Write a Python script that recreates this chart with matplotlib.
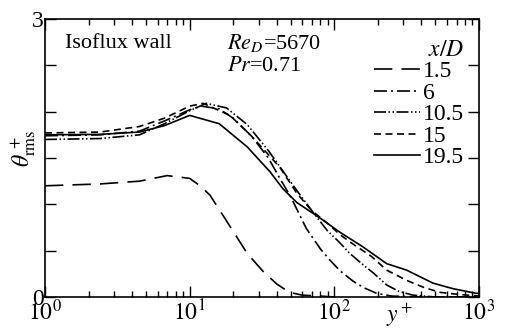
import numpy as np
import matplotlib
matplotlib.use("Agg")
import matplotlib.pyplot as plt

plt.rcParams['font.family'] = ['Liberation Serif', 'DejaVu Serif']
plt.rcParams['mathtext.fontset'] = 'stix'

# y+ positions and theta+_rms values
yp_15 = [1, 2.4, 4.5, 7, 10, 11.8, 13.8, 18, 25, 32, 40, 49, 60, 80, 100]
th_15 = [1.20, 1.22, 1.25, 1.31, 1.28, 1.20, 1.10, 0.82, 0.47, 0.28, 0.14, 0.05, 0.02, 0.01, 0.0]

yp_6 = [1, 2.4, 4.5, 6.7, 10, 12, 16, 20, 27, 35, 42, 50, 64, 80, 93, 110, 135, 160, 196, 250, 400, 1000]
th_6 = [1.74, 1.75, 1.79, 1.90, 2.02, 2.06, 2.03, 1.93, 1.73, 1.50, 1.28, 1.08, 0.74, 0.52, 0.40, 0.28, 0.17, 0.10, 0.04, 0.01, 0.0, 0.0]

yp_105 = [1, 2.4, 4.5, 6.7, 10, 13, 18, 25, 35, 45, 55, 70, 89, 110, 128, 160, 186, 230, 280, 350, 500, 1000]
th_105 = [1.70, 1.71, 1.75, 1.87, 2.01, 2.09, 2.04, 1.86, 1.58, 1.34, 1.15, 0.93, 0.72, 0.58, 0.47, 0.34, 0.26, 0.13, 0.06, 0.02, 0.0, 0.0]

yp_15b = [1, 2.4, 4.5, 6.7, 10, 12.4, 19, 27, 42, 55, 70, 89, 110, 135, 180, 230, 316, 420, 540, 700, 1000]
th_15b = [1.77, 1.78, 1.84, 1.93, 2.06, 2.09, 1.96, 1.73, 1.40, 1.12, 0.93, 0.80, 0.67, 0.57, 0.44, 0.29, 0.18, 0.10, 0.05, 0.03, 0.01]

yp_195 = [1, 2.4, 4.5, 6.7, 10, 16, 25, 36, 44, 55, 80, 109, 158, 230, 316, 480, 660, 950, 1000]
th_195 = [1.75, 1.755, 1.78, 1.85, 1.96, 1.87, 1.62, 1.35, 1.17, 1.02, 0.85, 0.70, 0.54, 0.36, 0.29, 0.15, 0.09, 0.04, 0.04]

labels = ['1.5', '6', '10.5', '15', '19.5']

fig = plt.figure(figsize=(5.07, 3.29), dpi=100)
ax = fig.add_axes([45/507, 1 - 297/329, 434/507, 278/329])

lw = 1.2
ax.plot(yp_15, th_15, color='k', lw=lw, dashes=(11, 5.5), label=labels[0])
ax.plot(yp_6, th_6, color='k', lw=lw, dashes=(7.8, 2.4, 1.2, 2.4), label=labels[1])
ax.plot(yp_105, th_105, color='k', lw=lw, dashes=(7.2, 1.5, 0.9, 1.5, 0.9, 1.5), label=labels[2])
ax.plot(yp_15b, th_15b, color='k', lw=lw, dashes=(4.2, 2.7), label=labels[3])
ax.plot(yp_195, th_195, color='k', lw=lw, ls='-', label=labels[4])

ax.set_xscale('log')
ax.set_xlim(1, 1000)
ax.set_ylim(0, 3)
ax.set_yticks([0, 0.5, 1, 1.5, 2, 2.5, 3])
ax.set_yticklabels(['0', '', '', '', '', '', '3'])
ax.set_xticks([1, 10, 100, 1000])
ax.set_xticklabels([r'$10^0$', r'$10^1$', r'$10^2$', r'$10^3$'])
ax.tick_params(which='both', direction='in', top=True, right=True, labelsize=17, pad=2)
ax.tick_params(which='major', length=8, width=1)
ax.tick_params(which='minor', length=4.5, width=1)
ax.tick_params(axis='y', pad=1)
for s in ax.spines.values():
    s.set_linewidth(1.2)

ax.text(10**2.45, -0.2, r'$y^+$', fontsize=17, ha='center', va='center')
fig.text(24/507, 1 - 148/329, r'$\theta^{\,+}_{\rm rms}$', fontsize=17,
         rotation=90, ha='center', va='center')

ax.text(10**0.14, 2.74, 'Isoflux wall', fontsize=16, va='center')
ax.text(10**1.26, 2.74, r'$Re_D$=5670', fontsize=16, va='center')
ax.text(10**1.26, 2.49, r'$Pr$=0.71', fontsize=16, va='center')

leg = ax.legend(title=r'$x/D$', loc='upper right', bbox_to_anchor=(0.965, 0.925),
                frameon=False, fontsize=17, title_fontsize=17,
                handlelength=1.95, handletextpad=0.12, labelspacing=0.0,
                borderaxespad=0.0, borderpad=0.0)
leg._legend_box.align = 'right'

fig.savefig('out.png', dpi=100)
